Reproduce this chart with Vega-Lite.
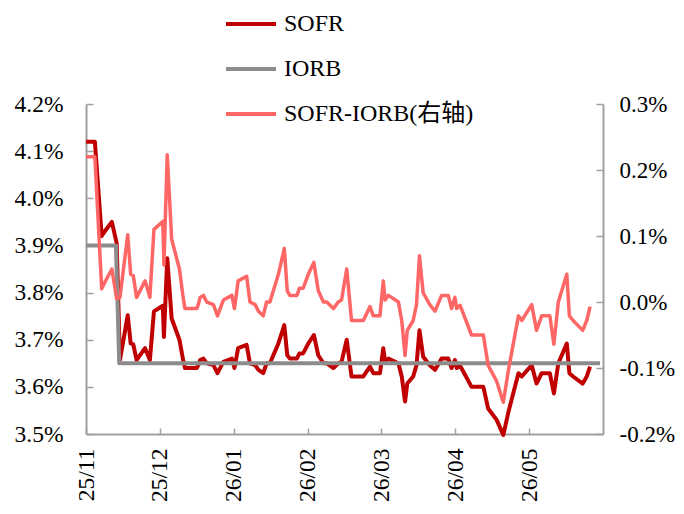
{
"$schema": "https://vega.github.io/schema/vega-lite/v6.json",
"width": 517, "height": 330,
"autosize": {"type": "none"},
"padding": {"left": 86, "top": 104, "right": 81, "bottom": 80},
"background": "white",
"config": {
  "view": {"stroke": null},
  "font": "Liberation Serif",
  "axis": {"domainColor": "#A0A0A0", "domainWidth": 2, "tickColor": "#A0A0A0", "tickWidth": 1.5, "grid": false, "labelFont": "Liberation Serif", "labelFontSize": 23.5, "labelColor": "#000000", "title": null}
},
"data": {"values": [
{"d":0,"s":"SOFR","v":4.12},{"d":2.4,"s":"SOFR","v":4.12},{"d":4.25,"s":"SOFR","v":3.92},{"d":5.1,"s":"SOFR","v":3.93},{"d":7.0,"s":"SOFR","v":3.95},{"d":8.3,"s":"SOFR","v":3.905},{"d":9.2,"s":"SOFR","v":3.657},{"d":11.3,"s":"SOFR","v":3.752},{"d":12.1,"s":"SOFR","v":3.692},{"d":12.8,"s":"SOFR","v":3.69},{"d":13.7,"s":"SOFR","v":3.657},{"d":16.0,"s":"SOFR","v":3.682},{"d":17.3,"s":"SOFR","v":3.657},{"d":18.4,"s":"SOFR","v":3.76},{"d":20.8,"s":"SOFR","v":3.772},{"d":21.1,"s":"SOFR","v":3.706},{"d":22.0,"s":"SOFR","v":3.873},{"d":23.2,"s":"SOFR","v":3.745},{"d":25.3,"s":"SOFR","v":3.70},{"d":26.3,"s":"SOFR","v":3.657},{"d":26.8,"s":"SOFR","v":3.64},{"d":30.0,"s":"SOFR","v":3.64},{"d":30.4,"s":"SOFR","v":3.646},{"d":30.9,"s":"SOFR","v":3.657},{"d":31.8,"s":"SOFR","v":3.66},{"d":32.7,"s":"SOFR","v":3.65},{"d":34.5,"s":"SOFR","v":3.646},{"d":35.6,"s":"SOFR","v":3.629},{"d":37.2,"s":"SOFR","v":3.653},{"d":39.5,"s":"SOFR","v":3.66},{"d":40.2,"s":"SOFR","v":3.64},{"d":41.2,"s":"SOFR","v":3.682},{"d":43.5,"s":"SOFR","v":3.689},{"d":44.4,"s":"SOFR","v":3.65},{"d":45.8,"s":"SOFR","v":3.646},{"d":46.7,"s":"SOFR","v":3.636},{"d":48.0,"s":"SOFR","v":3.629},{"d":48.9,"s":"SOFR","v":3.65},{"d":49.8,"s":"SOFR","v":3.65},{"d":52.1,"s":"SOFR","v":3.692},{"d":53.7,"s":"SOFR","v":3.731},{"d":54.5,"s":"SOFR","v":3.667},{"d":55.2,"s":"SOFR","v":3.66},{"d":57.1,"s":"SOFR","v":3.66},{"d":57.8,"s":"SOFR","v":3.671},{"d":58.8,"s":"SOFR","v":3.671},{"d":60.2,"s":"SOFR","v":3.692},{"d":61.7,"s":"SOFR","v":3.71},{"d":62.9,"s":"SOFR","v":3.667},{"d":64.3,"s":"SOFR","v":3.65},{"d":65.2,"s":"SOFR","v":3.65},{"d":67.0,"s":"SOFR","v":3.64},{"d":68.3,"s":"SOFR","v":3.65},{"d":69.2,"s":"SOFR","v":3.653},{"d":70.6,"s":"SOFR","v":3.70},{"d":71.9,"s":"SOFR","v":3.622},{"d":75.1,"s":"SOFR","v":3.622},{"d":76.9,"s":"SOFR","v":3.643},{"d":77.8,"s":"SOFR","v":3.629},{"d":79.6,"s":"SOFR","v":3.629},{"d":80.5,"s":"SOFR","v":3.682},{"d":81.0,"s":"SOFR","v":3.653},{"d":81.9,"s":"SOFR","v":3.66},{"d":84.6,"s":"SOFR","v":3.65},{"d":85.5,"s":"SOFR","v":3.622},{"d":86.4,"s":"SOFR","v":3.569},{"d":87.0,"s":"SOFR","v":3.607},{"d":88.6,"s":"SOFR","v":3.622},{"d":89.5,"s":"SOFR","v":3.646},{"d":90.3,"s":"SOFR","v":3.72},{"d":91.3,"s":"SOFR","v":3.664},{"d":93.1,"s":"SOFR","v":3.646},{"d":94.5,"s":"SOFR","v":3.636},{"d":96.3,"s":"SOFR","v":3.66},{"d":98.1,"s":"SOFR","v":3.66},{"d":99.0,"s":"SOFR","v":3.64},{"d":99.9,"s":"SOFR","v":3.657},{"d":100.4,"s":"SOFR","v":3.64},{"d":101.3,"s":"SOFR","v":3.645},{"d":102.2,"s":"SOFR","v":3.632},{"d":104.4,"s":"SOFR","v":3.60},{"d":107.6,"s":"SOFR","v":3.60},{"d":108.9,"s":"SOFR","v":3.554},{"d":111.2,"s":"SOFR","v":3.53},{"d":113.0,"s":"SOFR","v":3.498},{"d":114.4,"s":"SOFR","v":3.547},{"d":117.1,"s":"SOFR","v":3.629},{"d":118.0,"s":"SOFR","v":3.622},{"d":120.7,"s":"SOFR","v":3.646},{"d":122.0,"s":"SOFR","v":3.607},{"d":123.4,"s":"SOFR","v":3.629},{"d":125.6,"s":"SOFR","v":3.629},{"d":126.7,"s":"SOFR","v":3.586},{"d":127.9,"s":"SOFR","v":3.65},{"d":130.2,"s":"SOFR","v":3.692},{"d":130.9,"s":"SOFR","v":3.629},{"d":131.9,"s":"SOFR","v":3.622},{"d":134.5,"s":"SOFR","v":3.607},{"d":135.6,"s":"SOFR","v":3.622},{"d":136.5,"s":"SOFR","v":3.643},
{"d":0,"s":"IORB","v":3.90},{"d":8.1,"s":"IORB","v":3.90},{"d":9.0,"s":"IORB","v":3.65},{"d":139.2,"s":"IORB","v":3.65},
{"d":0,"s":"SOFR-IORB(右轴)","v":0.22},{"d":2.4,"s":"SOFR-IORB(右轴)","v":0.22},{"d":4.25,"s":"SOFR-IORB(右轴)","v":0.02},{"d":5.1,"s":"SOFR-IORB(右轴)","v":0.03},{"d":7.0,"s":"SOFR-IORB(右轴)","v":0.05},{"d":8.3,"s":"SOFR-IORB(右轴)","v":0.005},{"d":9.2,"s":"SOFR-IORB(右轴)","v":0.007},{"d":11.3,"s":"SOFR-IORB(右轴)","v":0.102},{"d":12.1,"s":"SOFR-IORB(右轴)","v":0.042},{"d":12.8,"s":"SOFR-IORB(右轴)","v":0.04},{"d":13.7,"s":"SOFR-IORB(右轴)","v":0.007},{"d":16.0,"s":"SOFR-IORB(右轴)","v":0.032},{"d":17.3,"s":"SOFR-IORB(右轴)","v":0.007},{"d":18.4,"s":"SOFR-IORB(右轴)","v":0.11},{"d":20.8,"s":"SOFR-IORB(右轴)","v":0.122},{"d":21.1,"s":"SOFR-IORB(右轴)","v":0.056},{"d":22.0,"s":"SOFR-IORB(右轴)","v":0.223},{"d":23.2,"s":"SOFR-IORB(右轴)","v":0.095},{"d":25.3,"s":"SOFR-IORB(右轴)","v":0.05},{"d":26.3,"s":"SOFR-IORB(右轴)","v":0.007},{"d":26.8,"s":"SOFR-IORB(右轴)","v":-0.01},{"d":30.0,"s":"SOFR-IORB(右轴)","v":-0.01},{"d":30.4,"s":"SOFR-IORB(右轴)","v":-0.004},{"d":30.9,"s":"SOFR-IORB(右轴)","v":0.007},{"d":31.8,"s":"SOFR-IORB(右轴)","v":0.01},{"d":32.7,"s":"SOFR-IORB(右轴)","v":0.0},{"d":34.5,"s":"SOFR-IORB(右轴)","v":-0.004},{"d":35.6,"s":"SOFR-IORB(右轴)","v":-0.021},{"d":37.2,"s":"SOFR-IORB(右轴)","v":0.003},{"d":39.5,"s":"SOFR-IORB(右轴)","v":0.01},{"d":40.2,"s":"SOFR-IORB(右轴)","v":-0.01},{"d":41.2,"s":"SOFR-IORB(右轴)","v":0.032},{"d":43.5,"s":"SOFR-IORB(右轴)","v":0.039},{"d":44.4,"s":"SOFR-IORB(右轴)","v":0.0},{"d":45.8,"s":"SOFR-IORB(右轴)","v":-0.004},{"d":46.7,"s":"SOFR-IORB(右轴)","v":-0.014},{"d":48.0,"s":"SOFR-IORB(右轴)","v":-0.021},{"d":48.9,"s":"SOFR-IORB(右轴)","v":0.0},{"d":49.8,"s":"SOFR-IORB(右轴)","v":0.0},{"d":52.1,"s":"SOFR-IORB(右轴)","v":0.042},{"d":53.7,"s":"SOFR-IORB(右轴)","v":0.081},{"d":54.5,"s":"SOFR-IORB(右轴)","v":0.017},{"d":55.2,"s":"SOFR-IORB(右轴)","v":0.01},{"d":57.1,"s":"SOFR-IORB(右轴)","v":0.01},{"d":57.8,"s":"SOFR-IORB(右轴)","v":0.021},{"d":58.8,"s":"SOFR-IORB(右轴)","v":0.021},{"d":60.2,"s":"SOFR-IORB(右轴)","v":0.042},{"d":61.7,"s":"SOFR-IORB(右轴)","v":0.06},{"d":62.9,"s":"SOFR-IORB(右轴)","v":0.017},{"d":64.3,"s":"SOFR-IORB(右轴)","v":0.0},{"d":65.2,"s":"SOFR-IORB(右轴)","v":0.0},{"d":67.0,"s":"SOFR-IORB(右轴)","v":-0.01},{"d":68.3,"s":"SOFR-IORB(右轴)","v":0.0},{"d":69.2,"s":"SOFR-IORB(右轴)","v":0.003},{"d":70.6,"s":"SOFR-IORB(右轴)","v":0.05},{"d":71.9,"s":"SOFR-IORB(右轴)","v":-0.028},{"d":75.1,"s":"SOFR-IORB(右轴)","v":-0.028},{"d":76.9,"s":"SOFR-IORB(右轴)","v":-0.007},{"d":77.8,"s":"SOFR-IORB(右轴)","v":-0.021},{"d":79.6,"s":"SOFR-IORB(右轴)","v":-0.021},{"d":80.5,"s":"SOFR-IORB(右轴)","v":0.032},{"d":81.0,"s":"SOFR-IORB(右轴)","v":0.003},{"d":81.9,"s":"SOFR-IORB(右轴)","v":0.01},{"d":84.6,"s":"SOFR-IORB(右轴)","v":0.0},{"d":85.5,"s":"SOFR-IORB(右轴)","v":-0.028},{"d":86.4,"s":"SOFR-IORB(右轴)","v":-0.081},{"d":87.0,"s":"SOFR-IORB(右轴)","v":-0.043},{"d":88.6,"s":"SOFR-IORB(右轴)","v":-0.028},{"d":89.5,"s":"SOFR-IORB(右轴)","v":-0.004},{"d":90.3,"s":"SOFR-IORB(右轴)","v":0.07},{"d":91.3,"s":"SOFR-IORB(右轴)","v":0.014},{"d":93.1,"s":"SOFR-IORB(右轴)","v":-0.004},{"d":94.5,"s":"SOFR-IORB(右轴)","v":-0.014},{"d":96.3,"s":"SOFR-IORB(右轴)","v":0.01},{"d":98.1,"s":"SOFR-IORB(右轴)","v":0.01},{"d":99.0,"s":"SOFR-IORB(右轴)","v":-0.01},{"d":99.9,"s":"SOFR-IORB(右轴)","v":0.007},{"d":100.4,"s":"SOFR-IORB(右轴)","v":-0.01},{"d":101.3,"s":"SOFR-IORB(右轴)","v":-0.005},{"d":102.2,"s":"SOFR-IORB(右轴)","v":-0.018},{"d":104.4,"s":"SOFR-IORB(右轴)","v":-0.05},{"d":107.6,"s":"SOFR-IORB(右轴)","v":-0.05},{"d":108.9,"s":"SOFR-IORB(右轴)","v":-0.096},{"d":111.2,"s":"SOFR-IORB(右轴)","v":-0.12},{"d":113.0,"s":"SOFR-IORB(右轴)","v":-0.152},{"d":114.4,"s":"SOFR-IORB(右轴)","v":-0.103},{"d":117.1,"s":"SOFR-IORB(右轴)","v":-0.021},{"d":118.0,"s":"SOFR-IORB(右轴)","v":-0.028},{"d":120.7,"s":"SOFR-IORB(右轴)","v":-0.004},{"d":122.0,"s":"SOFR-IORB(右轴)","v":-0.043},{"d":123.4,"s":"SOFR-IORB(右轴)","v":-0.021},{"d":125.6,"s":"SOFR-IORB(右轴)","v":-0.021},{"d":126.7,"s":"SOFR-IORB(右轴)","v":-0.064},{"d":127.9,"s":"SOFR-IORB(右轴)","v":0.0},{"d":130.2,"s":"SOFR-IORB(右轴)","v":0.042},{"d":130.9,"s":"SOFR-IORB(右轴)","v":-0.021},{"d":131.9,"s":"SOFR-IORB(右轴)","v":-0.028},{"d":134.5,"s":"SOFR-IORB(右轴)","v":-0.043},{"d":135.6,"s":"SOFR-IORB(右轴)","v":-0.028},{"d":136.5,"s":"SOFR-IORB(右轴)","v":-0.007}
]},
"encoding": {
  "x": {"field": "d", "type": "quantitative", "scale": {"domain": [0, 140], "nice": false, "zero": false},
    "axis": {"values": [0, 20, 40, 60, 80, 100, 120], "labelAngle": -90, "tickSize": -6, "labelPadding": 20,
      "labelExpr": "['25/11','25/12','26/01','26/02','26/03','26/04','26/05'][round(datum.value/20)]"}}
},
"layer": [
  {
    "encoding": {
      "y": {"field": "v", "type": "quantitative", "scale": {"domain": [3.5, 4.2], "nice": false, "zero": false},
        "axis": {"orient": "left", "values": [3.5, 3.6, 3.7, 3.8, 3.9, 4.0, 4.1, 4.2], "tickSize": -7, "labelPadding": 30,
          "labelExpr": "format(datum.value, '.1f') + '%'"}}
    },
    "layer": [
      {"transform": [{"filter": "datum.s === 'SOFR'"}],
       "mark": {"type": "line", "strokeWidth": 4, "strokeJoin": "round"},
       "encoding": {"color": {"field": "s", "type": "nominal",
         "scale": {"domain": ["SOFR", "IORB", "SOFR-IORB(右轴)"], "range": ["#C00000", "#8C8C8C", "#FF6666"]},
         "legend": {"orient": "none", "legendX": 138, "legendY": -107, "title": null, "symbolType": "stroke", "symbolSize": 2500, "symbolStrokeWidth": 4, "labelFontSize": 24, "labelFont": "'Liberation Serif', 'Noto Sans CJK SC'", "labelColor": "#000000", "labelOffset": 6, "labelLimit": 0, "rowPadding": 6, "padding": 0}}}},
      {"transform": [{"filter": "datum.s === 'IORB'"}],
       "mark": {"type": "line", "strokeWidth": 4, "strokeJoin": "round"},
       "encoding": {"color": {"field": "s", "type": "nominal"}}}
    ]
  },
  {"transform": [{"filter": "datum.s === 'SOFR-IORB(右轴)'"}],
   "mark": {"type": "line", "strokeWidth": 3.5, "strokeJoin": "round"},
   "encoding": {
     "y": {"field": "v", "type": "quantitative", "scale": {"domain": [-0.2, 0.3], "nice": false, "zero": false},
       "axis": {"orient": "right", "values": [-0.2, -0.1, 0, 0.1, 0.2, 0.3], "tickSize": -7, "labelPadding": 23, "labelFontSize": 23,
         "labelExpr": "(datum.value < -0.001 ? '-' : '') + format(abs(datum.value), '.1f') + '%'"}},
     "color": {"field": "s", "type": "nominal"}}}
],
"resolve": {"scale": {"y": "independent"}}
}
